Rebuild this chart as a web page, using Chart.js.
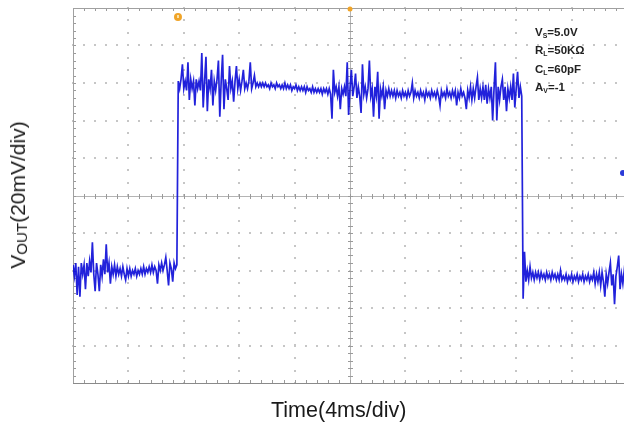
<!DOCTYPE html>
<html>
<head>
<meta charset="utf-8">
<script src="https://cdn.jsdelivr.net/npm/chart.js@4.4.1/dist/chart.umd.min.js"></script>
<style>
  html, body { margin:0; padding:0; background:#fff; overflow:hidden; width:624px; height:428px; }
  #wrap { position:absolute; left:0; top:0; width:640px; height:428px; }
  .lbl { position:absolute; font-family:"Liberation Sans", Arial, sans-serif; color:#1a1a1a; white-space:nowrap; }
  #xlab { left:271px; top:398px; font-size:21.5px; }
  #ylab { left:18px; top:195px; font-size:21px; transform:translate(-50%,-50%) rotate(-90deg); transform-origin:center; }
  #ylab sub { font-size:0.72em; vertical-align:-0.12em; }
  .ann { position:absolute; left:535px; font-family:"Liberation Sans", Arial, sans-serif; font-weight:bold; font-size:11.5px; color:#222; white-space:nowrap; }
  .ann sub { font-size:0.6em; vertical-align:-0.25em; }
</style>
</head>
<body>
<div id="wrap"><canvas id="c" width="640" height="428"></canvas></div>
<div class="lbl" id="xlab">Time(4ms/div)</div>
<div class="lbl" id="ylab">V<sub>OUT</sub>(20mV/div)</div>
<div class="ann" style="top:26px">V<sub>S</sub>=5.0V</div>
<div class="ann" style="top:44px">R<sub>L</sub>=50KΩ</div>
<div class="ann" style="top:63px">C<sub>L</sub>=60pF</div>
<div class="ann" style="top:81px">A<sub>V</sub>=-1</div>
<script>
// ---- axis definitions (oscilloscope graticule) ----
const xMajorTicksMs = [0, 4, 8, 12, 16, 20, 24, 28, 32, 36, 40];
const yMajorTicksMv = [-100, -80, -60, -40, -20, 0, 20, 40, 60, 80, 100];
const xMinorStepMs = 0.8;
const yMinorStepMv = 4;

const sampleStepMs = 0.1;
const segmentStartMs = [0, 7.6, 32.5];

const lowStartMv = [
  -37,-43,-36,-53,-38,-54,-36,-42,-37,-50,
  -36,-43,-35,-41,-25,-42,-51,-36,-42,-51,
  -37,-43,-34,-42,-26,-41,-36,-47,-38,-42,
  -37,-43,-38,-42,-39,-43,-38,-42,-45,-39,
  -43,-39,-43,-40,-42,-39,-43,-40,-42,-39,
  -42,-38,-42,-39,-41,-38,-41,-37,-41,-38,
  -40,-47,-37,-40,-36,-40,-37,-33,-40,-48,
  -36,-39,-46,-36,-39,-37
];

const highMv = [
  61,57,62,70,57,61,56,71,51,62,
  57,61,48,62,57,61,56,76,47,61,
  74,45,62,57,67,48,61,56,62,72,
  42,61,75,46,62,57,51,69,57,61,
  50,61,69,57,62,56,61,67,57,60,
  57,61,71,57,60,64,58,60,58,60,
  58,60,58,60,58,59,57,60,58,59,
  57,60,58,59,57,59,57,60,57,59,
  57,59,56,58,57,59,56,58,56,58,
  56,58,55,58,56,57,55,58,55,57,
  55,57,55,57,54,57,55,57,54,57,
  54,41,67,55,58,53,58,46,57,54,
  58,53,71,43,57,67,53,58,65,52,
  58,53,44,70,54,58,52,57,72,53,
  57,42,58,53,66,41,57,53,58,46,
  56,53,57,53,56,53,56,52,56,53,
  55,52,56,53,55,52,56,53,55,60,
  52,56,53,55,52,56,53,55,51,56,
  53,55,52,56,53,55,52,56,53,48,
  56,53,55,52,57,53,55,52,56,53,
  56,48,55,52,57,53,55,52,46,56,
  52,58,51,57,52,58,63,51,57,52,
  58,51,59,49,57,52,58,40,57,71,
  40,58,51,58,62,51,58,45,57,52,
  58,51,65,47,57,66,52,58,53
];

const lowEndMv = [
  -55,-30,-46,-40,-45,
  -38,-44,-41,-45,-41,-44,-41,-45,-41,-44,
  -42,-45,-41,-44,-42,-45,-41,-44,-42,-45,
  -42,-45,-40,-45,-43,-45,-42,-46,-43,-45,
  -42,-46,-43,-45,-42,-46,-43,-45,-42,-46,
  -43,-45,-42,-46,-43,-45,-41,-47,-42,-46,
  -41,-48,-41,-46,-54,-42,-47,-41,-36,-48,
  -42,-58,-43,-38,-32,-50,-42,-47,-40,-46,
  -43
];

// ---- markers ----
const triggerTimeMs = 7.58;
const groundRefMv = 12;

const segments = [lowStartMv, highMv, lowEndMv];
const tracePoints = [];
segments.forEach((seg, s) => {
  seg.forEach((v, i) => {
    tracePoints.push({ x: +(segmentStartMs[s] + i * sampleStepMs).toFixed(3), y: v });
  });
});

const graticule = {
  id: 'graticule',
  beforeDatasetsDraw(chart) {
    const { ctx, chartArea: a, scales: { x, y } } = chart;
    ctx.save();
    ctx.fillStyle = '#c6c6c6';
    xMajorTicksMs.forEach(t => {
      if (t === 0 || t === 20 || t === 40) return;
      const px = Math.round(x.getPixelForValue(t));
      for (let v = -100; v <= 100.01; v += 20 / 3) {
        const py = Math.round(y.getPixelForValue(v));
        ctx.fillRect(px - 1, py - 1, 2, 2);
      }
    });
    yMajorTicksMv.forEach(v => {
      if (v === 0 || v === 100 || v === -100) return;
      const py = Math.round(y.getPixelForValue(v));
      for (let t = 0; t <= 40.01; t += xMinorStepMs) {
        const px = Math.round(x.getPixelForValue(t));
        ctx.fillRect(px - 1, py - 1, 2, 2);
      }
    });
    const cx = Math.round(x.getPixelForValue(20)) + 0.5;
    const cy = Math.round(y.getPixelForValue(0)) + 0.5;
    ctx.strokeStyle = '#b4b4b4';
    ctx.lineWidth = 1;
    ctx.beginPath();
    ctx.moveTo(a.left, cy); ctx.lineTo(a.right, cy);
    ctx.moveTo(cx, a.top); ctx.lineTo(cx, a.bottom);
    ctx.stroke();
    ctx.strokeStyle = '#9a9a9a';
    ctx.beginPath();
    for (let t = 0; t <= 40.01; t += xMinorStepMs) {
      const px = Math.round(x.getPixelForValue(t)) + 0.5;
      ctx.moveTo(px, cy - 2.5); ctx.lineTo(px, cy + 2.5);
      ctx.moveTo(px, a.top); ctx.lineTo(px, a.top + 3);
      ctx.moveTo(px, a.bottom); ctx.lineTo(px, a.bottom - 3);
    }
    for (let v = -100; v <= 100.01; v += yMinorStepMv) {
      const py = Math.round(y.getPixelForValue(v)) + 0.5;
      ctx.moveTo(cx - 2.5, py); ctx.lineTo(cx + 2.5, py);
      ctx.moveTo(a.left, py); ctx.lineTo(a.left + 3, py);
    }
    ctx.stroke();
    ctx.strokeStyle = '#a0a0a0';
    ctx.beginPath();
    ctx.moveTo(a.left + 0.5, a.top); ctx.lineTo(a.left + 0.5, a.bottom);
    ctx.moveTo(a.left, a.top + 0.5); ctx.lineTo(a.right, a.top + 0.5);
    ctx.stroke();
    ctx.strokeStyle = '#8a8a8a';
    ctx.beginPath();
    ctx.moveTo(a.left, a.bottom + 0.5); ctx.lineTo(a.right, a.bottom + 0.5);
    ctx.stroke();
    ctx.restore();
  },
  afterDatasetsDraw(chart) {
    const { ctx, chartArea: a, scales: { x, y } } = chart;
    ctx.save();
    const tx = x.getPixelForValue(triggerTimeMs);
    ctx.fillStyle = '#f0a428';
    ctx.beginPath(); ctx.arc(tx, a.top + 9, 4, 0, Math.PI * 2); ctx.fill();
    ctx.fillStyle = '#fbe2a8';
    ctx.fillRect(tx - 1, a.top + 7, 2, 3);
    const mx = x.getPixelForValue(20);
    ctx.fillStyle = '#f0a428';
    ctx.beginPath(); ctx.arc(mx, a.top + 1, 2.5, 0, Math.PI * 2); ctx.fill();
    ctx.fillStyle = '#2a3ad8';
    ctx.beginPath(); ctx.arc(623, y.getPixelForValue(groundRefMv), 3, 0, Math.PI * 2); ctx.fill();
    ctx.restore();
  }
};

new Chart(document.getElementById('c'), {
  type: 'line',
  data: {
    datasets: [{
      data: tracePoints,
      borderColor: 'rgba(10,10,215,0.9)',
      borderWidth: 1.7,
      pointRadius: 0,
      tension: 0,
      fill: false
    }]
  },
  options: {
    responsive: false,
    animation: false,
    events: [],
    layout: { padding: { left: 73, top: 8, right: 13, bottom: 45 } },
    plugins: { legend: { display: false }, tooltip: { enabled: false } },
    scales: {
      x: { type: 'linear', min: 0, max: 40, display: false },
      y: { type: 'linear', min: -100, max: 100, display: false }
    }
  },
  plugins: [graticule]
});
</script>
</body>
</html>
